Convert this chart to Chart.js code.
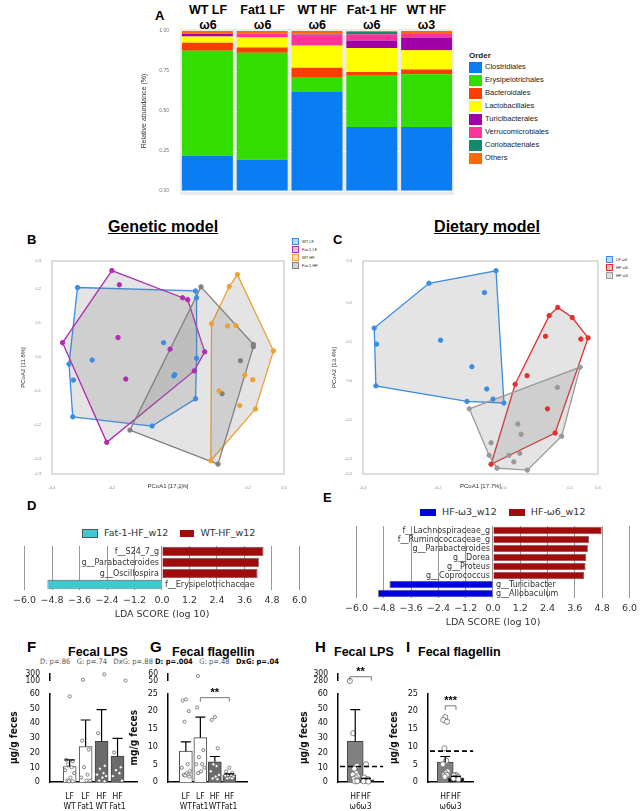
<!DOCTYPE html>
<html>
<head>
<meta charset="utf-8">
<title>Microbiome figure</title>
<script src="https://cdn.jsdelivr.net/npm/chart.js"></script>
<style>
  body { margin:0; background:#fff; font-family:"Liberation Sans", Arial, sans-serif; }
  #wrap { position:relative; width:642px; height:811px; overflow:hidden; }
  canvas { position:absolute; }
  .t { position:absolute; white-space:nowrap; color:#000; }
  .lg { position:absolute; font-size:9px; color:#222; }
  .lg i { display:inline-block; width:13px; height:10px; vertical-align:middle; margin-right:3px; }
</style>
</head>
<body>
<div id="wrap"></div>
<script>
// ---------- data ----------
const groupsA = ['WT LF|ω6', 'Fat1 LF|ω6', 'WT HF|ω6', 'Fat-1 HF|ω6', 'WT HF|ω3'];
const orders = ['Clostridiales','Erysipelotrichales','Bacteroidales','Lactobacillales','Turicibacterales','Verrucomicrobiales','Coriobacteriales','Others'];
const orderColors = ['#0a7df2','#33dd00','#ff3d00','#ffff00','#a000a8','#ff3399','#138a6e','#ff6a00'];
const clostridiales      = [0.220, 0.195, 0.618, 0.400, 0.400];
const erysipelotrichales = [0.656, 0.669, 0.095, 0.325, 0.330];
const bacteroidales      = [0.050, 0.033, 0.058, 0.019, 0.029];
const lactobacillales    = [0.040, 0.063, 0.139, 0.149, 0.121];
const turicibacterales   = [0.015, 0.000, 0.003, 0.048, 0.080];
const verrucomicrobiales = [0.005, 0.025, 0.065, 0.038, 0.021];
const coriobacteriales   = [0.000, 0.000, 0.005, 0.017, 0.000];
const others             = [0.014, 0.015, 0.017, 0.004, 0.019];
const seriesA = [clostridiales, erysipelotrichales, bacteroidales, lactobacillales, turicibacterales, verrucomicrobiales, coriobacteriales, others];

// PCoA, genetic model
const wtLF   = [[-0.301,0.204],[0.046,0.194],[0.049,0.174],[0.049,-0.004],[0.046,-0.123],[-0.082,-0.203],[-0.315,-0.176],[-0.313,-0.068],[-0.326,-0.021],[-0.258,-0.009],[-0.048,0.042],[-0.018,-0.056],[-0.015,-0.052]];
const fat1LF = [[-0.200,0.254],[-0.178,0.212],[0.008,0.174],[0.023,0.168],[0.073,0.015],[0.042,-0.041],[-0.345,0.042],[-0.182,0.057],[-0.029,0.023],[-0.159,-0.065],[-0.215,-0.251]];
const wtHF   = [[0.169,0.242],[0.145,0.207],[0.093,0.098],[0.140,0.091],[0.165,0.092],[0.275,0.018],[0.191,-0.053],[0.214,-0.067],[0.115,-0.100],[0.176,-0.143],[0.222,-0.153],[0.091,-0.305]];
const fat1HF = [[0.062,0.206],[0.216,0.037],[0.216,0.030],[0.178,-0.011],[0.124,-0.108],[0.112,-0.315],[-0.147,-0.215]];
// PCoA, dietary model
const lfW6 = [[-0.024,0.283],[-0.227,0.251],[-0.393,0.136],[-0.386,0.095],[-0.388,-0.012],[-0.112,-0.052],[0.000,-0.056],[-0.059,0.227],[-0.192,0.105],[-0.097,0.037],[-0.052,-0.020],[-0.033,-0.046]];
const hfW6 = [[0.163,0.189],[0.137,0.168],[0.207,0.163],[0.255,0.111],[0.233,0.108],[0.126,0.115],[0.070,0.014],[0.034,-0.008],[0.132,-0.071],[-0.039,-0.213],[0.155,-0.133]];
const hfW3 = [[0.231,0.036],[-0.105,-0.071],[0.162,-0.016],[0.042,-0.110],[0.052,-0.136],[-0.039,-0.158],[-0.045,-0.190],[-0.021,-0.223],[0.015,-0.190],[0.030,-0.207],[0.048,-0.185],[0.071,-0.228],[0.175,-0.141]];

// LEfSe
const taxaD = ['f__S24_7_g','g__Parabacteroides','g__Oscillospira','f__Erysipelotrichaceae'];
const ldaD  = [4.43, 4.23, 4.17, -5.00];
const taxaE = ['f__Lachnospiraceae_g','f__Ruminococcaceae_g','g__Parabacteroides','g__Dorea','g__Proteus','g__Coprococcus','g__Turicibacter','g__Allobaculum'];
const ldaE  = [4.78, 4.22, 4.17, 4.10, 4.07, 4.00, -4.55, -5.05];
const ldaTicks = [-6.0,-4.8,-3.6,-2.4,-1.2,0.0,1.2,2.4,3.6,4.8,6.0];

// Fecal LPS / flagellin
const groupsFG = [['LF','WT'],['LF','Fat1'],['HF','WT'],['HF','Fat1']];
const lpsMean = [10.5, 24.0, 27.5, 17.5];
const lpsErr  = [15.0, 42.0, 49.0, 29.5];
const lpsPts  = [[58,15,14,12,10,8,6,3,1,0.5,0.5],[130,28,22,10,5,3,1,1],[290,33,11,9,6,5,4,3,1,0.5],[110,20,10,8,6,4,1]];
const flaMean = [8.7, 12.5, 5.7, 2.0];
const flaErr  = [11.3, 18.3, 7.2, 2.3];
const flaPts  = [[23.3,23,20,17,5,4,3,2.5,2,2,1.8,1.5],[57,21,9,7,5,5,4,3,2.5],[18.3,17.5,9.5,5,4.5,3,2,1.5,1,0.8],[4,3,2.5,2,2,1.8,1.5,1.2,1,1]];
const groupsHI = [['HF','ω6'],['HF','ω3']];
const lpsHMean = [27.5, 1.5];
const lpsHErr  = [49.0, 2.5];
const lpsHPts  = [[280,33,11,9,6,5,4,3,2,1,0.5,0.5],[12,3,2,1,1,0.5,0.3]];
const lpsHLine = 10.5;
const flaIMean = [5.6, 1.2];
const flaIErr  = [7.2, 1.6];
const flaIPts  = [[18.3,17.5,17,9.5,6,5,3,2.5,2,2,1.5],[2,1.8,1.5,1.2,1,1,0.8]];
const flaILine = 8.7;

// ---------- helpers ----------
const wrap = document.getElementById('wrap');
function canvasAt(l, t, w, h) {
  const c = document.createElement('canvas');
  c.width = w; c.height = h;
  c.style.left = l + 'px'; c.style.top = t + 'px';
  c.style.width = w + 'px'; c.style.height = h + 'px';
  wrap.appendChild(c);
  return c;
}
function text(html, l, t, style) {
  const d = document.createElement('div');
  d.className = 't'; d.innerHTML = html;
  d.style.left = l + 'px'; d.style.top = t + 'px';
  if (style) d.style.cssText += style;
  wrap.appendChild(d);
  return d;
}
const fixW = w => (s => { s.width = w; });
const fixH = h => (s => { s.height = h; });
const narrow = '"DejaVu Sans Condensed", "Liberation Sans Narrow", "Liberation Sans", sans-serif';
Chart.defaults.font.family = '"Liberation Sans", Arial, sans-serif';
Chart.defaults.animation = false;
Chart.defaults.responsive = false;
Chart.defaults.plugins.legend.display = false;
Chart.defaults.plugins.tooltip.enabled = false;

// ---------- A ----------
text('A', 155, 8, 'font-weight:bold;font-size:13px');
groupsA.forEach((g, i) => {
  const [a, b] = g.split('|');
  text(a + '<br>' + b, 181 + i * 54.6 + 27 - 30, 3, 'width:60px;text-align:center;font-weight:bold;font-size:12.5px;line-height:15px');
});
const panelBg = {
  id: 'panelBg',
  beforeDraw(c) {
    const a = c.chartArea, ctx = c.ctx;
    ctx.save(); ctx.fillStyle = '#ebebeb';
    ctx.fillRect(a.left, a.top - 2, a.right - a.left, a.bottom - a.top + 6);
    ctx.restore();
  }
};
new Chart(canvasAt(140, 25, 318, 178), {
  type: 'bar',
  data: {
    labels: groupsA,
    datasets: seriesA.map((d, i) => ({ label: orders[i], data: d, backgroundColor: orderColors[i], barPercentage: 0.93, categoryPercentage: 1 }))
  },
  options: {
    layout: { padding: { top: 4, right: 4 } },
    scales: {
      x: { stacked: true, grid: { display: false }, border: { display: false }, ticks: { display: false }, afterFit: fixH(12) },
      y: { stacked: true, min: 0, max: 1, afterFit: fixW(40), border: { display: false },
           grid: { color: '#ffffff', lineWidth: 1 },
           ticks: { stepSize: 0.25, font: { size: 5 }, color: '#777', callback: v => v.toFixed(2) },
           title: { display: true, text: 'Relative abundance (%)', font: { size: 7 }, color: '#333', padding: 0 } }
    }
  },
  plugins: [panelBg]
});
let lgA = '<div style="font-weight:bold;font-size:8px;margin-bottom:2px">Order</div>';
orders.forEach((o, i) => { lgA += '<div style="height:13px"><i style="background:' + orderColors[i] + ';width:13px;height:11px"></i>' + o + '</div>'; });
const la = document.createElement('div'); la.className = 'lg'; la.style.left = '469px'; la.style.top = '51px'; la.style.fontSize = '7.5px';
la.innerHTML = lgA; wrap.appendChild(la);

// ---------- B & C ----------
function hull(pts) {
  const p = pts.slice().sort((a, b) => a[0] - b[0] || a[1] - b[1]);
  const cross = (o, a, b) => (a[0] - o[0]) * (b[1] - o[1]) - (a[1] - o[1]) * (b[0] - o[0]);
  const lo = [], up = [];
  for (const q of p) { while (lo.length >= 2 && cross(lo[lo.length - 2], lo[lo.length - 1], q) <= 0) lo.pop(); lo.push(q); }
  for (const q of p.slice().reverse()) { while (up.length >= 2 && cross(up[up.length - 2], up[up.length - 1], q) <= 0) up.pop(); up.push(q); }
  return lo.slice(0, -1).concat(up.slice(0, -1));
}
const hullPlugin = {
  id: 'hulls',
  beforeDatasetsDraw(c) {
    const ctx = c.ctx, xs = c.scales.x, ys = c.scales.y, a = c.chartArea;
    ctx.save();
    ctx.beginPath(); ctx.rect(a.left, a.top, a.right - a.left, a.bottom - a.top); ctx.clip();
    c.data.datasets.forEach(ds => {
      const h = hull(ds.raw);
      ctx.beginPath();
      h.forEach((q, i) => { const X = xs.getPixelForValue(q[0]), Y = ys.getPixelForValue(q[1]); i ? ctx.lineTo(X, Y) : ctx.moveTo(X, Y); });
      ctx.closePath();
      ctx.fillStyle = 'rgba(120,120,120,0.2)'; ctx.fill();
      ctx.strokeStyle = ds.borderColor; ctx.lineWidth = 1.3; ctx.stroke();
    });
    ctx.restore();
  },
  afterDraw(c) {
    const a = c.chartArea, ctx = c.ctx;
    ctx.save(); ctx.strokeStyle = '#bbb'; ctx.lineWidth = 1; ctx.strokeRect(a.left, a.top, a.right - a.left, a.bottom - a.top); ctx.restore();
  }
};
function pcoa(l, t, w, h, yW, sets, xr, yr, xt, yt) {
  new Chart(canvasAt(l, t, w, h), {
    type: 'scatter',
    data: { datasets: sets.map(s => ({ raw: s[0], data: s[0].map(q => ({ x: q[0], y: q[1] })), borderColor: s[1], backgroundColor: s[1], pointRadius: 2.2 })) },
    options: {
      layout: { padding: { top: 6, right: 6 } },
      scales: {
        x: { min: xr[0], max: xr[1], afterFit: fixH(16), grid: { display: false }, border: { display: false },
             ticks: { stepSize: 0.2, font: { size: 4 }, color: '#888', callback: v => v.toFixed(1) },
             title: { display: true, text: xt, font: { size: 6 }, color: '#333', padding: 0 } },
        y: { min: yr[0], max: yr[1], afterFit: fixW(yW), grid: { display: false }, border: { display: false },
             ticks: { stepSize: 0.1, font: { size: 4 }, color: '#888', callback: v => v.toFixed(1) },
             title: { display: true, text: yt, font: { size: 6 }, color: '#333', padding: 0 } }
      }
    },
    plugins: [hullPlugin]
  });
}
text('<u>Genetic model</u>', 100, 218, 'font-weight:bold;font-size:16px;width:126px;text-align:center');
text('<u>Dietary model</u>', 424, 218, 'font-weight:bold;font-size:16px;width:126px;text-align:center');
text('B', 27, 232, 'font-weight:bold;font-size:13px');
text('C', 333, 232, 'font-weight:bold;font-size:13px');
pcoa(20, 255, 270, 235, 32, [[wtLF, '#3a8de0'], [fat1LF, '#b02cb0'], [wtHF, '#f0a030'], [fat1HF, '#808080']], [-0.376, 0.306], [-0.344, 0.282], 'PCoA1 [17.1%]', 'PCoA2 [11.8%]');
pcoa(331, 255, 273, 235, 32, [[lfW6, '#3a8de0'], [hfW6, '#e03030'], [hfW3, '#999999']], [-0.427, 0.285], [-0.238, 0.308], 'PCoA1 [17.7%]', 'PCoA2 [13.4%]');
function miniLegend(l, t, names, cols) {
  let s = '';
  names.forEach((n, i) => { s += '<div style="height:8px"><i style="width:5px;height:5px;border:1px solid ' + cols[i] + ';background:' + cols[i] + '55"></i>' + n + '</div>'; });
  const d = document.createElement('div'); d.className = 'lg'; d.style.left = l + 'px'; d.style.top = t + 'px'; d.style.fontSize = '4px';
  d.innerHTML = s; wrap.appendChild(d);
}
miniLegend(292, 238, ['WT LF', 'Fat-1 LF', 'WT HF', 'Fat-1 HF'], ['#3a8de0', '#b02cb0', '#f0a030', '#808080']);
miniLegend(606, 256, ['LF ω6', 'HF ω6', 'HF ω3'], ['#3a8de0', '#e03030', '#999999']);

// ---------- D & E ----------
const taxonLabels = {
  id: 'taxonLabels',
  afterDatasetsDraw(c) {
    const ctx = c.ctx, xs = c.scales.x, ys = c.scales.y, x0 = xs.getPixelForValue(0);
    ctx.save(); ctx.font = '8px "DejaVu Sans", sans-serif'; ctx.fillStyle = '#333'; ctx.textBaseline = 'middle';
    c.data.labels.forEach((lab, i) => {
      const v = c.data.datasets[0].data[i], y = ys.getPixelForValue(i);
      ctx.textAlign = v >= 0 ? 'right' : 'left';
      ctx.fillText(lab, v >= 0 ? x0 - 3 : x0 + 3, y);
    });
    ctx.restore();
  }
};
function lefse(l, t, w, h, taxa, vals, posCol, negCol) {
  new Chart(canvasAt(l, t, w, h), {
    type: 'bar',
    data: { labels: taxa, datasets: [{ data: vals, backgroundColor: vals.map(v => v >= 0 ? posCol : negCol), borderColor: '#555', borderWidth: 0.8, barPercentage: 0.85, categoryPercentage: 1 }] },
    options: {
      indexAxis: 'y',
      layout: { padding: { left: 0, right: 4, top: 2 } },
      scales: {
        x: { min: -6, max: 6, afterBuildTicks: s => { s.ticks = ldaTicks.map(v => ({ value: v })); },
             afterFit: fixH(30),
             grid: { color: '#999', borderDash: [2, 2], drawTicks: false }, border: { display: false },
             ticks: { autoSkip: false, maxRotation: 0, minRotation: 0, font: { size: 9.5, family: '"DejaVu Sans", sans-serif' }, color: '#333', padding: 5, callback: v => v.toFixed(1).replace('-', '−') },
             title: { display: true, text: 'LDA SCORE (log 10)', font: { size: 9.5, family: '"DejaVu Sans", sans-serif' }, color: '#333', padding: 0 } },
        y: { display: false }
      }
    },
    plugins: [taxonLabels]
  });
}
text('D', 27, 498, 'font-weight:bold;font-size:13px');
text('E', 323, 490, 'font-weight:bold;font-size:13px');
text('<i style="display:inline-block;width:14px;height:7px;background:#40c8d0;border:1px solid #555;vertical-align:middle"></i>&nbsp; Fat-1-HF_w12 &nbsp;&nbsp;&nbsp;<i style="display:inline-block;width:14px;height:7px;background:#a00c0c;vertical-align:middle"></i>&nbsp; WT-HF_w12', 82, 527, 'font-size:9.5px;font-family:"DejaVu Sans",sans-serif;color:#333');
text('<i style="display:inline-block;width:16px;height:7px;background:#0000e0;vertical-align:middle"></i>&nbsp; HF-ω3_w12 &nbsp;&nbsp;&nbsp;<i style="display:inline-block;width:16px;height:7px;background:#a00c0c;vertical-align:middle"></i>&nbsp; HF-ω6_w12', 420, 506, 'font-size:9.5px;font-family:"DejaVu Sans",sans-serif;color:#333');
lefse(8, 544, 304, 76, taxaD, ldaD, '#a00c0c', '#40c8d0');
lefse(340, 524, 302, 104, taxaE, ldaE, '#a00c0c', '#0000e0');

// ---------- F G H I ----------
const jit = [0, -0.22, 0.2, -0.1, 0.12, -0.28, 0.28, 0.05, -0.15, 0.18, -0.05, 0.24];
const barExtras = {
  id: 'barExtras',
  afterDatasetsDraw(c, args, o) {
    const ctx = c.ctx, xs = c.scales.x, ys = c.scales.y, a = c.chartArea;
    ctx.save(); ctx.strokeStyle = '#000'; ctx.lineWidth = 1.2;
    (o.err || []).forEach((e, i) => {
      const x = xs.getPixelForValue(i), y0 = ys.getPixelForValue(o.mean[i]), y1 = ys.getPixelForValue(e);
      ctx.beginPath(); ctx.moveTo(x, y0); ctx.lineTo(x, y1); ctx.moveTo(x - 5, y1); ctx.lineTo(x + 5, y1); ctx.stroke();
    });
    if (o.line != null) {
      ctx.setLineDash([5, 3]); ctx.lineWidth = 1.6;
      const y = ys.getPixelForValue(o.line);
      ctx.beginPath(); ctx.moveTo(a.left + 2, y); ctx.lineTo(a.right, y); ctx.stroke(); ctx.setLineDash([]);
    }
    if (o.sig) {
      const [i0, i1, v, s] = o.sig, x0 = xs.getPixelForValue(i0), x1 = xs.getPixelForValue(i1), y = ys.getPixelForValue(v);
      ctx.lineWidth = 0.8; ctx.strokeStyle = '#555';
      ctx.beginPath(); ctx.moveTo(x0, y + 4); ctx.lineTo(x0, y); ctx.lineTo(x1, y); ctx.lineTo(x1, y + 4); ctx.stroke();
      ctx.fillStyle = '#000'; ctx.font = 'bold 11px "Liberation Sans"'; ctx.textAlign = 'center'; ctx.fillText(s, (x0 + x1) / 2, y - 2);
    }
    ctx.restore();
  }
};
function dotPanel(cfg) {
  const n = cfg.labels.length;
  const pts = [], hi = [];
  cfg.pts.forEach((g, i) => g.forEach((v, k) => {
    const p = { x: i + jit[k % jit.length] * cfg.spread, y: v };
    (v <= cfg.max ? pts : hi).push(p);
  }));
  const xScale = { type: 'linear', min: -0.55, max: n - 0.45, grid: { display: false }, border: { color: '#000', width: 1.5 },
                   afterBuildTicks: s => { s.ticks = cfg.labels.map((_, i) => ({ value: i })); } };
  const dots = data => ({ type: 'line', data, showLine: false, clip: false, pointRadius: cfg.r, pointBackgroundColor: '#fff', pointBorderColor: '#666', pointBorderWidth: 0.8, order: 0 });
  new Chart(canvasAt(cfg.l, 686, cfg.w, 125), {
    type: 'bar',
    data: { datasets: [
      dots(pts),
      { data: cfg.mean.map((v, i) => ({ x: i, y: v })), backgroundColor: cfg.colors, borderColor: '#444', borderWidth: 1, barThickness: cfg.bw, order: 1 }
    ] },
    options: {
      layout: { padding: { top: 6, right: cfg.pr } },
      scales: {
        x: Object.assign({}, xScale, { afterFit: fixH(29), ticks: { autoSkip: false, maxRotation: 0, minRotation: 0, font: { size: 8.5, family: narrow, lineHeight: 1.15 }, color: '#111', padding: 2, callback: v => cfg.labels[v] } }),
        y: { min: 0, max: cfg.max, afterFit: fixW(cfg.yw), grid: { display: false }, border: { color: '#000', width: 1.5 },
             ticks: { stepSize: cfg.step, font: { size: 9, family: narrow }, color: '#111', padding: 2 },
             title: { display: true, text: cfg.ytitle, font: { size: 10, family: narrow, weight: 'bold' }, color: '#111', padding: 0 } }
      },
      plugins: { barExtras: { mean: cfg.mean, err: cfg.err, line: cfg.line, sig: cfg.sig } }
    },
    plugins: [barExtras]
  });
  if (cfg.upper) {
    new Chart(canvasAt(cfg.l, 660, cfg.w, 28), {
      type: 'line',
      data: { datasets: [dots(hi)] },
      options: {
        layout: { padding: { top: 14, bottom: 5, right: cfg.pr } },
        scales: {
          x: Object.assign({}, xScale, { display: false }),
          y: { min: cfg.upper[0], max: cfg.upper[1], afterFit: fixW(cfg.yw), grid: { display: false }, border: { color: '#000', width: 1.5 },
               afterBuildTicks: s => { s.ticks = cfg.upper.map(v => ({ value: v })); },
               ticks: { autoSkip: false, font: { size: 8.5, family: narrow }, color: '#111', padding: 2 } }
        },
        plugins: { barExtras: cfg.sigHi ? { sig: cfg.sigHi } : {} }
      },
      plugins: [barExtras]
    });
  }
}
text('F', 27, 638, 'font-weight:bold;font-size:15px');
text('G', 150, 638, 'font-weight:bold;font-size:15px');
text('H', 315, 638, 'font-weight:bold;font-size:15px');
text('I', 406, 638, 'font-weight:bold;font-size:15px');
text('Fecal LPS', 68, 645, 'font-weight:bold;font-size:12.5px');
text('Fecal flagellin', 172, 645, 'font-weight:bold;font-size:12.5px');
text('Fecal LPS', 334, 645, 'font-weight:bold;font-size:12.5px');
text('Fecal flagellin', 418, 645, 'font-weight:bold;font-size:12.5px');
text('D: p=.86&nbsp;&nbsp; G: p=.74&nbsp;&nbsp; DxG: p=.88', 40, 657, 'font-size:7.5px;color:#555;font-family:' + narrow.replace(/"/g, "'"));
text('<b>D: p=.004</b>&nbsp;&nbsp; <span style="color:#555">G: p=.48</span>&nbsp;&nbsp; <b>DxG: p=.04</b>', 155, 657, 'font-size:7.5px;font-family:' + narrow.replace(/"/g, "'"));
dotPanel({ l: 8, w: 134, pr: 4, yw: 42, labels: groupsFG, mean: lpsMean, err: lpsErr, pts: lpsPts, max: 60, step: 10, upper: [100, 300],
           colors: ['#fff', '#fff', '#6b6b6b', '#6b6b6b'], bw: 13, r: 1.6, spread: 1, ytitle: 'µg/g feces' });
dotPanel({ l: 128, w: 124, pr: 4, yw: 40, labels: groupsFG, mean: flaMean, err: flaErr, pts: flaPts, max: 25, step: 5, upper: [50, 60],
           colors: ['#fff', '#fff', '#6b6b6b', '#6b6b6b'], bw: 13, r: 1.6, spread: 1, ytitle: 'mg/g feces', sig: [1, 3, 23.8, '**'] });
dotPanel({ l: 298, w: 90, pr: 2, yw: 40, labels: groupsHI, mean: lpsHMean, err: lpsHErr, pts: lpsHPts, max: 60, step: 10, upper: [280, 300],
           colors: ['#808080', '#111'], bw: 16, r: 2.6, spread: 0.8, ytitle: 'µg/g feces', line: lpsHLine, sigHi: [0, 1, 292, '**'] });
dotPanel({ l: 388, w: 90, pr: 2, yw: 40, labels: groupsHI, mean: flaIMean, err: flaIErr, pts: flaIPts, max: 25, step: 5,
           colors: ['#808080', '#111'], bw: 16, r: 2.6, spread: 0.8, ytitle: 'µg/g feces', line: flaILine, sig: [0, 1, 21.5, '***'] });
</script>
</body>
</html>
